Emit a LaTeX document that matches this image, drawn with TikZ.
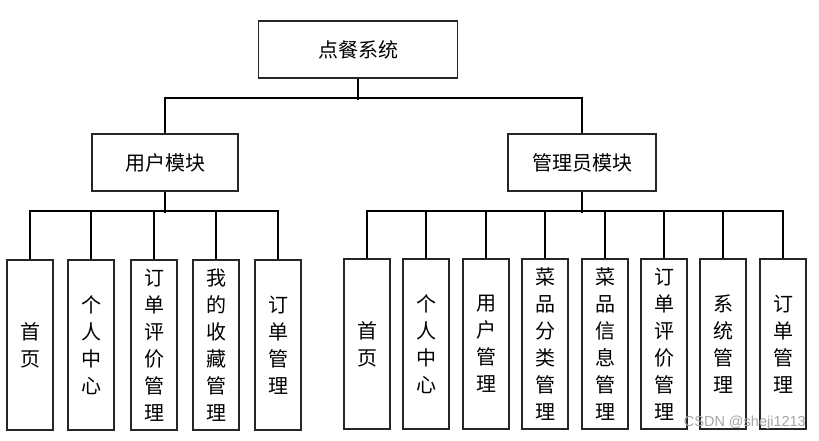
\documentclass[tikz,border=0pt]{standalone}
\usepackage{fontspec}
\newfontfamily\cjk{Noto Sans CJK SC}
\newfontfamily\wmfont{Liberation Sans}
\begin{document}
\begin{tikzpicture}[x=1pt,y=-1pt,
  box/.style={draw=black!85, line width=1.4pt, fill=white, inner sep=0pt,
    font=\cjk\fontsize{20}{27}\selectfont, align=center},
  top/.style={box, minimum height=57pt},
  leaf/.style={box, minimum width=46pt, minimum height=170pt},
  conn/.style={draw=black, line width=2pt}]
\useasboundingbox (0,0) rectangle (819,441);
\node[top, minimum width=199pt] (root) at (358,49.5) {点餐系统};
\node[top, minimum width=146pt] (user) at (165,162.5) {用户模块};
\node[top, minimum width=148pt] (admin) at (582,162.5) {管理员模块};
% user leaves
\node[leaf] (u1) at (30,345) {首\\页};
\node[leaf] (u2) at (91,345) {个\\人\\中\\心};
\node[leaf] (u3) at (154,345) {订\\单\\评\\价\\管\\理};
\node[leaf] (u4) at (216,345) {我\\的\\收\\藏\\管\\理};
\node[leaf] (u5) at (278,345) {订\\单\\管\\理};
% admin leaves
\node[leaf] (a1) at (367,344) {首\\页};
\node[leaf] (a2) at (426,344) {个\\人\\中\\心};
\node[leaf] (a3) at (486,344) {用\\户\\管\\理};
\node[leaf] (a4) at (545,344) {菜\\品\\分\\类\\管\\理};
\node[leaf] (a5) at (605,344) {菜\\品\\信\\息\\管\\理};
\node[leaf] (a6) at (664,344) {订\\单\\评\\价\\管\\理};
\node[leaf] (a7) at (723,344) {系\\统\\管\\理};
\node[leaf] (a8) at (783,344) {订\\单\\管\\理};
% connectors top level
\draw[conn] (root.south) -- ++(0,21);
\draw[conn] (user.north) -- ++(0,-35) -| (admin.north);
% user bus
\draw[conn] (user.south) -- ++(0,21);
\draw[conn] (u1.north) -- ++(0,-48) -| (u5.north);
\foreach \n in {u2,u3,u4} \draw[conn] (\n.north) -- ++(0,-48);
% admin bus
\draw[conn] (admin.south) -- ++(0,21);
\draw[conn] (a1.north) -- ++(0,-47) -| (a8.north);
\foreach \n in {a2,a3,a4,a5,a6,a7} \draw[conn] (\n.north) -- ++(0,-47);
\node[anchor=east, text=black!35, font=\wmfont\fontsize{14.5}{14.5}\selectfont, inner sep=0pt] (wm) at (806,423) {CSDN @sheji1213};
\end{tikzpicture}
\end{document}
